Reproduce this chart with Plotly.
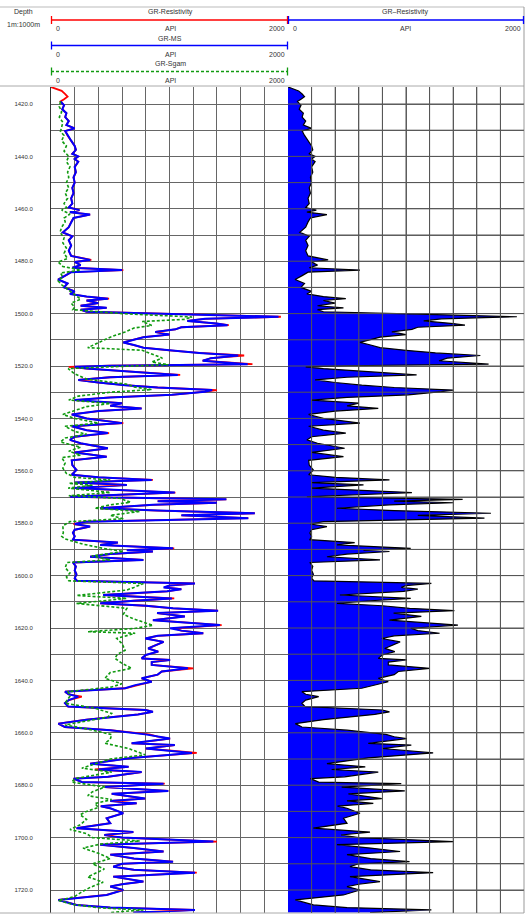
import plotly.graph_objects as go

# ---------------- data ----------------
DEPTH_TICKS = [1420, 1440, 1460, 1480, 1500, 1520, 1540, 1560, 1580, 1600, 1620, 1640, 1660, 1680, 1700, 1720]
DEPTH_LABELS = ["1420.0", "1440.0", "1460.0", "1480.0", "1500.0", "1520.0", "1540.0", "1560.0",
                "1580.0", "1600.0", "1620.0", "1640.0", "1660.0", "1680.0", "1700.0", "1720.0"]

MS_DEPTH = [
    1419.0, 1420.5, 1422, 1423.5, 1425, 1426.5, 1428, 1429.3, 1430.3, 1432,
    1434, 1436, 1437.5, 1439, 1440, 1441, 1442, 1444, 1446, 1448,
    1450, 1452, 1454, 1456, 1458, 1459.5, 1460.5, 1461.3, 1462.2, 1463.5,
    1465, 1467, 1469, 1470.5, 1472, 1474, 1476, 1478, 1479.5, 1480.3,
    1481.5, 1482.5, 1483.4, 1484.2, 1485.5, 1487, 1488.5, 1490, 1491.5, 1492.5,
    1493.5, 1494.3, 1495, 1496, 1497, 1497.8, 1498.5, 1499.3, 1500.2, 1501.2,
    1502, 1502.8, 1503.8, 1504.4, 1505.2, 1506, 1507, 1508, 1509, 1510,
    1511, 1512, 1513, 1514, 1515, 1516, 1517, 1518, 1519.3, 1519.9,
    1520.3, 1521, 1522, 1523.4, 1524.3, 1525.3, 1526.3, 1527.3, 1528.2, 1529.2,
    1529.8, 1531, 1532, 1533, 1534.2, 1535.2, 1536.2, 1537.2, 1538.5, 1540,
    1541.8, 1543, 1544.5, 1545.6, 1547, 1548.2, 1549.5, 1551.4, 1553, 1554.6,
    1556, 1557.8, 1559.7, 1561.5, 1562.5, 1563.5, 1564.5, 1565.4, 1566.6, 1568.3,
    1569.9, 1570.9, 1571.6, 1572.2, 1573, 1574.3, 1575.2, 1576.2, 1577, 1578.1,
    1579.4, 1580.3, 1581.3, 1582.5, 1583.7, 1585, 1586.3, 1587.4, 1588.3, 1589.6,
    1590.3, 1590.8, 1591.8, 1592.8, 1594, 1595, 1596.5, 1598, 1599.5, 1601,
    1602, 1603, 1603.8, 1604.5, 1605.2, 1606, 1607.4, 1608.7, 1609.6, 1610.6,
    1611.5, 1612.5, 1613.4, 1614.3, 1615.6, 1617, 1618.9, 1620.1, 1621, 1622,
    1623, 1624, 1625.3, 1626.5, 1627.8, 1629, 1630.3, 1631.6, 1632.2, 1633,
    1634.1, 1635.4, 1636.6, 1637.8, 1639.2, 1640.5, 1641.8, 1643, 1644.3, 1645.3,
    1646.2, 1647.5, 1648.7, 1650, 1651.3, 1652, 1653, 1655, 1656.5, 1657.8,
    1659, 1660.6, 1661.5, 1662.2, 1664, 1664.7, 1666, 1667.7, 1669.6, 1670.8,
    1671.8, 1673, 1674, 1675, 1676.8, 1677.5, 1678.8, 1679.4, 1680.7, 1682.2,
    1683.3, 1685.1, 1686, 1686.9, 1688, 1688.8, 1690.7, 1692.6, 1694.5, 1696.4,
    1697.9, 1699, 1700, 1701.5, 1702.7, 1704, 1705.3, 1706.5, 1708, 1709.2,
    1710, 1711.1, 1712.3, 1713.4, 1714.9, 1716.8, 1717.8, 1718.7, 1720, 1721.9,
    1722.8, 1723.8, 1725.7, 1726.7, 1727.6, 1728.6,
]
MS_API = [
    80, 110, 95, 130, 120, 150, 130, 200, 120, 140,
    170, 200, 210, 180, 230, 200, 230, 200, 210, 190,
    200, 180, 190, 170, 180, 150, 240, 160, 330, 190,
    170, 150, 100, 180, 150, 170, 150, 170, 330, 200,
    250, 180, 600, 170, 120, 60, 140, 110, 200, 160,
    300, 480, 300, 400, 250, 470, 250, 300, 1100, 1920,
    1300, 1150, 1400, 1490, 1100, 1050, 880, 1000, 780, 700,
    610, 700, 780, 1000, 1250, 1580, 1350, 1280, 1660, 500,
    200, 300, 600, 1070, 500, 230, 400, 625, 900, 1360,
    1300, 1020, 500, 200, 600, 500, 765, 400, 175, 300,
    600, 175, 300, 480, 200, 160, 250, 480, 200, 470,
    175, 180, 215, 175, 400, 850, 200, 640, 200, 1045,
    160, 1480, 900, 1400, 860, 415, 900, 1720, 1100, 1665,
    300, 200, 330, 200, 185, 200, 185, 565, 415, 1030,
    640, 860, 500, 330, 780, 185, 210, 200, 215, 200,
    220, 1215, 1000, 950, 1100, 980, 440, 1020, 700, 415,
    800, 1030, 1410, 895, 1130, 860, 1425, 1005, 1100, 1285,
    900, 795, 950, 880, 820, 905, 800, 765, 1005, 850,
    850, 1155, 935, 900, 765, 850, 710, 625, 118, 150,
    230, 150, 118, 145, 795, 860, 735, 300, 62, 118,
    500, 795, 900, 1005, 680, 1045, 800, 1190, 680, 500,
    330, 655, 400, 765, 480, 190, 260, 950, 455, 990,
    512, 795, 500, 723, 420, 500, 610, 470, 500, 215,
    695, 450, 600, 1370, 415, 700, 950, 500, 700, 1030,
    600, 525, 700, 1215, 525, 780, 600, 500, 610, 470,
    300, 62, 215, 500, 1215, 695,
]

RES_DEPTH = [1413.5, 1415.0, 1416.2, 1417.2, 1418.2] + MS_DEPTH
RES_API = [0, 90, 120, 140, 110] + [
    80, 110, 95, 130, 120, 150, 130, 200, 120, 140,
    170, 200, 210, 180, 230, 200, 230, 200, 210, 190,
    200, 180, 190, 170, 180, 150, 240, 160, 330, 190,
    170, 150, 100, 180, 150, 170, 150, 170, 340, 200,
    250, 180, 610, 170, 120, 60, 140, 110, 200, 160,
    300, 490, 300, 400, 250, 470, 250, 300, 1100, 1940,
    1300, 1150, 1400, 1500, 1100, 1050, 880, 1000, 780, 700,
    610, 700, 780, 1000, 1250, 1630, 1350, 1280, 1700, 500,
    150, 300, 600, 1090, 500, 230, 400, 625, 900, 1400,
    1300, 1020, 500, 200, 600, 500, 765, 400, 175, 300,
    610, 175, 300, 490, 200, 160, 250, 480, 200, 470,
    175, 180, 215, 175, 400, 860, 200, 640, 200, 1050,
    160, 1480, 900, 1400, 860, 415, 900, 1720, 1100, 1665,
    300, 190, 330, 200, 185, 200, 185, 565, 415, 1040,
    640, 860, 500, 330, 780, 185, 210, 200, 215, 200,
    220, 1215, 1000, 960, 1100, 980, 440, 1040, 700, 415,
    800, 1030, 1410, 895, 1130, 860, 1440, 1040, 1100, 1285,
    900, 795, 950, 880, 820, 905, 800, 765, 1005, 850,
    850, 1200, 935, 900, 765, 850, 740, 625, 118, 150,
    260, 150, 118, 145, 800, 860, 735, 300, 62, 118,
    500, 830, 900, 1005, 680, 1045, 800, 1230, 680, 500,
    330, 655, 370, 765, 480, 190, 260, 960, 455, 990,
    512, 795, 500, 723, 420, 500, 610, 470, 500, 215,
    695, 450, 600, 1400, 415, 700, 950, 500, 700, 1030,
    600, 525, 700, 1230, 525, 780, 600, 500, 610, 470,
    300, 62, 215, 500, 1215, 695,
]

SGAM_DEPTH = [
    1419, 1421, 1423, 1425, 1427, 1429, 1430.5, 1432, 1434, 1436,
    1438, 1440, 1442, 1444, 1446, 1448, 1450, 1452, 1454, 1456,
    1458, 1459.5, 1460.5, 1462, 1463.5, 1465, 1467, 1469, 1471, 1473,
    1475, 1477, 1479, 1480.3, 1482, 1483.4, 1484.5, 1486, 1487.5, 1489,
    1491, 1493, 1494.5, 1496, 1497.5, 1498.5, 1500, 1501.3, 1502.2, 1503,
    1504.5, 1505.5, 1507, 1509, 1511, 1513, 1514, 1515.5, 1517, 1518.5,
    1519.5, 1520.5, 1521, 1523, 1525, 1527, 1528, 1529, 1530, 1531.5,
    1533, 1534.3, 1535.5, 1537, 1538.5, 1540, 1541.8, 1543, 1545, 1546,
    1547.5, 1549, 1551, 1552.5, 1554, 1555, 1557, 1559, 1561, 1562.5,
    1563.5, 1564.8, 1565.5, 1566.6, 1568.3, 1569.5, 1570.5, 1572, 1573, 1574.3,
    1575.5, 1577, 1578.3, 1579.4, 1581, 1583.7, 1585, 1586, 1587, 1588,
    1589.6, 1590.8, 1592.5, 1594, 1595, 1597, 1599, 1600.5, 1602, 1603,
    1604.5, 1605.5, 1607.6, 1608.7, 1609.8, 1610.6, 1612.5, 1614.8, 1616.5, 1619,
    1620.2, 1621.4, 1622, 1624, 1626, 1628.5, 1630, 1631.6, 1633.5, 1635.4,
    1637, 1639.2, 1641.3, 1642.5, 1644.3, 1646, 1648.7, 1650.6, 1652.6, 1654,
    1655.5, 1657, 1658.5, 1660.7, 1662.5, 1664, 1666, 1668.4, 1670, 1672,
    1673.5, 1675, 1677.5, 1678.8, 1680.7, 1682.5, 1684, 1685.5, 1687, 1688.5,
    1690, 1691.3, 1693, 1695, 1696.9, 1698.5, 1700, 1701.3, 1702.5, 1704,
    1706, 1708, 1710, 1712, 1715, 1717, 1719, 1721, 1722.5, 1724,
    1725.5, 1726.8, 1727.6, 1728.6,
]
SGAM_API = [
    80, 70, 90, 70, 100, 90, 80, 110, 90, 130,
    110, 150, 130, 160, 140, 150, 130, 150, 120, 140,
    110, 130, 90, 160, 110, 120, 90, 76, 110, 100,
    130, 110, 140, 60, 100, 250, 80, 100, 60, 90,
    150, 200, 250, 170, 200, 185, 600, 1190, 1130, 770,
    850, 700, 625, 500, 400, 310, 770, 850, 940, 850,
    990, 400, 145, 200, 300, 650, 700, 850, 500, 230,
    150, 500, 300, 200, 100, 200, 400, 118, 200, 300,
    120, 80, 250, 150, 250, 90, 120, 100, 130, 200,
    500, 150, 350, 145, 500, 150, 580, 670, 500, 370,
    750, 500, 610, 160, 100, 104, 90, 118, 200, 270,
    440, 610, 345, 500, 135, 120, 160, 130, 150, 780,
    700, 640, 215, 640, 400, 215, 640, 610, 695, 860,
    700, 310, 710, 555, 600, 625, 560, 540, 600, 680,
    500, 455, 597, 512, 145, 160, 118, 370, 512, 480,
    300, 118, 300, 512, 500, 455, 655, 795, 500, 370,
    260, 512, 200, 175, 455, 350, 310, 512, 370, 400,
    300, 245, 300, 250, 160, 300, 350, 750, 415, 270,
    400, 500, 350, 450, 310, 440, 330, 250, 200, 62,
    185, 400, 780, 500,
]

# ---------------- layout helpers ----------------
W, H = 532, 918


def px(x):
    return x / W


def py(y):
    return 1 - y / H


TXT = "#333333"
FONT = "Liberation Sans, Arial, sans-serif"
GRID = "#666666"

fig = go.Figure()

# track 1 curves
fig.add_trace(go.Scatter(x=RES_API, y=RES_DEPTH, mode="lines", name="GR-Resistivity",
                         line=dict(color="#ff0000", width=1.8), xaxis="x", yaxis="y"))
fig.add_trace(go.Scatter(x=MS_API, y=MS_DEPTH, mode="lines", name="GR-MS",
                         line=dict(color="#0000ff", width=2.0), xaxis="x", yaxis="y"))
fig.add_trace(go.Scatter(x=SGAM_API, y=SGAM_DEPTH, mode="lines", name="GR-Sgam",
                         line=dict(color="#109a10", width=1.6, dash="3px,2px"), xaxis="x", yaxis="y"))
# track 2 filled curve
fig.add_trace(go.Scatter(x=RES_API, y=RES_DEPTH, mode="lines", name="GR–Resistivity",
                         fill="tozerox", fillcolor="#0000ff",
                         line=dict(color="#000000", width=1.2), xaxis="x2", yaxis="y"))

shapes = []
annotations = []


def hline(x0, x1, y, color, width=1, dash="solid"):
    shapes.append(dict(type="line", xref="paper", yref="paper", x0=px(x0), x1=px(x1), y0=py(y), y1=py(y),
                       line=dict(color=color, width=width, dash=dash)))


def vline(x, y0, y1, color, width=1):
    shapes.append(dict(type="line", xref="paper", yref="paper", x0=px(x), x1=px(x), y0=py(y0), y1=py(y1),
                       line=dict(color=color, width=width)))


def text(s, x, y, anchor="center", size=7):
    annotations.append(dict(text=s, xref="paper", yref="paper", x=px(x), y=py(y), xanchor=anchor,
                            yanchor="middle", showarrow=False, font=dict(family=FONT, size=size, color=TXT)))


# frame
hline(0, 524, 7, "#bbbbbb")
hline(0, 524, 86, "#aaaaaa")
hline(0, 524, 913, "#aaaaaa")
vline(524, 7, 913, "#999999")

# header: depth track
text("Depth", 23, 12.5)
text("1m:1000m", 23, 25)

# header: track 1 scales
scales = [("GR-Resistivity", "#ff0000", 12.5, 20, 28.5, "solid"),
          ("GR-MS", "#0000ff", 38.5, 45.5, 54, "solid"),
          ("GR-Sgam", "#109a10", 64, 71.5, 80, "3px,2px")]
for name, col, ty, ly, ay, dash in scales:
    text(name, 170, ty)
    hline(51, 288, ly, col, 1.6, dash)
    vline(51.5, ly - 4, ly + 4, col, 1.3)
    vline(287.5, ly - 4, ly + 4, col, 1.3)
    text("0", 54, ay, "left")
    text("API", 170, ay)
    text("2000", 287, ay, "right")

# header: track 2 scale
text("GR–Resistivity", 405, 12.5)
hline(288, 524, 20, "#0000ff", 1.6)
vline(288.5, 16, 24, "#0000ff", 1.3)
vline(523.5, 16, 24, "#0000ff", 1.3)
text("0", 291, 28.5, "left")
text("API", 405, 28.5)
text("2000", 523, 28.5, "right")

# track 2 grid drawn over the fill (as in the reference)
ydom = [1 - 913 / H, 1 - 87 / H]
for v in range(200, 2000, 200):
    shapes.append(dict(type="line", xref="x2", yref="paper", x0=v, x1=v, y0=ydom[0], y1=ydom[1],
                       layer="above", line=dict(color="#555555", width=1)))
for d in range(1420, 1730, 10):
    shapes.append(dict(type="line", xref="x2 domain", yref="y", x0=0, x1=1, y0=d, y1=d,
                       layer="above", line=dict(color="#555555", width=1)))

fig.update_layout(
    width=W, height=H, autosize=False,
    margin=dict(l=0, r=0, t=0, b=0),
    paper_bgcolor="white", plot_bgcolor="white",
    showlegend=False,
    shapes=shapes, annotations=annotations,
    xaxis=dict(domain=[px(51), px(288)], range=[0, 2000], dtick=200, tick0=0,
               showgrid=True, gridcolor=GRID, gridwidth=1, zeroline=False,
               showticklabels=False, ticks="", anchor="y", fixedrange=True),
    xaxis2=dict(domain=[px(288), px(524)], range=[0, 2000], dtick=200, tick0=0,
                showgrid=True, gridcolor=GRID, gridwidth=1, zeroline=False,
                showticklabels=False, ticks="", anchor="y", fixedrange=True),
    yaxis=dict(domain=ydom, range=[1728.78, 1413.51], anchor="x",
               tickmode="array", tickvals=DEPTH_TICKS, ticktext=DEPTH_LABELS,
               showgrid=True, gridcolor=GRID, gridwidth=1, zeroline=False,
               minor=dict(dtick=10, tick0=1410, showgrid=True, gridcolor=GRID, gridwidth=1),
               showline=True, linecolor="#333333", linewidth=1,
               ticks="", ticklabelstandoff=16,
               tickfont=dict(family=FONT, size=6, color=TXT), fixedrange=True),
)

fig.write_html("out.html", config={"displayModeBar": False},
               post_script="document.body.style.margin='0';document.body.style.overflow='hidden';")
